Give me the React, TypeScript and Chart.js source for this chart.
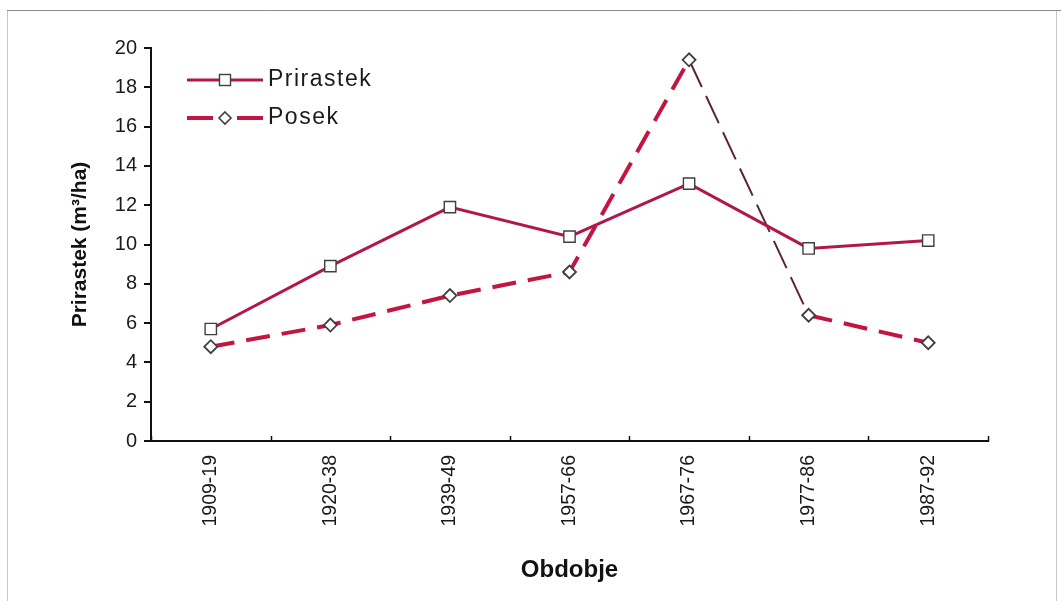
import React, { useEffect, useRef } from "react";
import { Chart, registerables } from "chart.js";

Chart.register(...registerables);

const periods = ["1909-19", "1920-38", "1939-49", "1957-66", "1967-76", "1977-86", "1987-92"];
const prirastek = [5.7, 8.9, 11.9, 10.4, 13.1, 9.8, 10.2];
const posek = [4.8, 5.9, 7.4, 8.6, 19.4, 6.4, 5.0];
const seriesNames = ["Prirastek", "Posek"];

const W = 1061;
const H = 601;
const lineColor = "#b0184b";
const posekColor = "#c2153f";
const markerEdge = "#3f3f3f";
const FONT = "Arial, 'Liberation Sans', sans-serif";

// Thin frame around the whole figure
const framePlugin = {
  id: "frame",
  beforeDraw(chart: any) {
    const ctx = chart.ctx;
    ctx.save();
    ctx.fillStyle = "#ffffff";
    ctx.fillRect(0, 0, chart.width, chart.height);
    ctx.strokeStyle = "#c8c8c8";
    ctx.lineWidth = 1;
    ctx.strokeRect(7.5, 10.5, chart.width - 12, chart.height - 8);
    ctx.strokeStyle = "#8a8a8a";
    ctx.beginPath();
    ctx.moveTo(7, 10.5);
    ctx.lineTo(chart.width, 10.5);
    ctx.stroke();
    ctx.restore();
  },
};

// Small upward tick marks at the category boundaries on the x axis
const xBoundaryTicks = {
  id: "xBoundaryTicks",
  afterDraw(chart: any) {
    const { ctx } = chart;
    const xs = chart.scales.x;
    const yBase = xs.top;
    ctx.save();
    ctx.strokeStyle = "#111";
    ctx.lineWidth = 1.5;
    ctx.beginPath();
    for (let i = 0; i <= periods.length; i++) {
      const px = Math.round(xs.getPixelForValue(i - 0.5)) + 0.5;
      ctx.moveTo(px, yBase + 1);
      ctx.lineTo(px, yBase - 5);
    }
    ctx.stroke();
    ctx.restore();
  },
};

// Legend drawn inside the top-left corner of the plot
const innerLegendPlugin = {
  id: "innerLegend",
  afterDatasetsDraw(chart: any) {
    const { ctx, chartArea } = chart;
    const x0 = chartArea.left + 36;
    const x1 = chartArea.left + 112;
    const xm = (x0 + x1) / 2;
    const rows = [chartArea.top + 32, chartArea.top + 70];
    ctx.save();
    ctx.lineCap = "butt";
    // Prirastek: solid line with square
    ctx.strokeStyle = lineColor;
    ctx.lineWidth = 3;
    ctx.beginPath();
    ctx.moveTo(x0, rows[0]);
    ctx.lineTo(x1, rows[0]);
    ctx.stroke();
    ctx.fillStyle = "#ffffff";
    ctx.strokeStyle = markerEdge;
    ctx.lineWidth = 1.4;
    ctx.fillRect(xm - 5.5, rows[0] - 5.5, 11, 11);
    ctx.strokeRect(xm - 5.5, rows[0] - 5.5, 11, 11);
    // Posek: dashed line with diamond
    ctx.strokeStyle = posekColor;
    ctx.lineWidth = 4;
    ctx.beginPath();
    ctx.moveTo(x0, rows[1]);
    ctx.lineTo(x0 + 26, rows[1]);
    ctx.moveTo(x1 - 26, rows[1]);
    ctx.lineTo(x1, rows[1]);
    ctx.stroke();
    ctx.strokeStyle = markerEdge;
    ctx.lineWidth = 1.6;
    ctx.beginPath();
    ctx.moveTo(xm, rows[1] - 6);
    ctx.lineTo(xm + 6, rows[1]);
    ctx.lineTo(xm, rows[1] + 6);
    ctx.lineTo(xm - 6, rows[1]);
    ctx.closePath();
    ctx.fillStyle = "#ffffff";
    ctx.fill();
    ctx.stroke();
    // Labels
    ctx.fillStyle = "#1a1a1a";
    ctx.font = `23px ${FONT}`;
    (ctx as any).letterSpacing = "1.5px";
    ctx.textAlign = "left";
    ctx.textBaseline = "middle";
    ctx.fillText(seriesNames[0], x1 + 5, rows[0]);
    ctx.fillText(seriesNames[1], x1 + 5, rows[1]);
    ctx.restore();
  },
};

export default function App() {
  const canvasRef = useRef<HTMLCanvasElement | null>(null);

  useEffect(() => {
    const canvas = canvasRef.current;
    if (!canvas) return;
    const chart = new Chart(canvas, {
      type: "line",
      data: {
        labels: periods,
        datasets: [
          {
            label: seriesNames[0],
            data: prirastek,
            borderColor: lineColor,
            borderWidth: 3,
            pointStyle: "rect",
            pointRadius: 8,
            pointBorderColor: markerEdge,
            pointBackgroundColor: "#ffffff",
            pointBorderWidth: 1.4,
            tension: 0,
          },
          {
            label: seriesNames[1],
            data: posek,
            borderColor: posekColor,
            borderWidth: 4,
            borderDash: [24, 12],
            pointStyle: "rectRot",
            pointRadius: 6.5,
            pointBorderColor: markerEdge,
            pointBackgroundColor: "#ffffff",
            pointBorderWidth: 1.8,
            tension: 0,
            segment: {
              borderColor: (c: any) => (c.p0DataIndex === 4 ? "#5a2636" : undefined),
              borderWidth: (c: any) => (c.p0DataIndex === 4 ? 2 : undefined),
              borderDash: (c: any) => (c.p0DataIndex === 4 ? [30, 10] : undefined),
            },
          },
        ],
      },
      options: {
        responsive: false,
        animation: false,
        devicePixelRatio: 1,
        layout: { padding: { left: 60, top: 48, right: 73, bottom: 16 } },
        plugins: {
          legend: { display: false },
          tooltip: { enabled: false },
        },
        scales: {
          x: {
            type: "category",
            offset: true,
            grid: {
              display: false,
              drawTicks: false,
              offset: true,
            },
            border: { display: true, color: "#111", width: 2 },
            ticks: {
              autoSkip: false,
              minRotation: 90,
              maxRotation: 90,
              padding: 14,
              color: "#1a1a1a",
              font: { family: FONT, size: 19.5 },
            },
            title: {
              display: true,
              text: "Obdobje",
              color: "#111",
              padding: { top: 0, bottom: 0 },
              font: { family: FONT, size: 24, weight: "bold" },
            },
            afterFit(scale: any) {
              scale.height = H - 16 - 441;
            },
          },
          y: {
            min: 0,
            max: 20,
            ticks: {
              stepSize: 2,
              padding: 7,
              color: "#1a1a1a",
              font: { family: FONT, size: 20 },
            },
            grid: {
              display: true,
              drawOnChartArea: false,
              drawTicks: true,
              tickLength: 7,
              color: "#111",
              lineWidth: 2,
            },
            border: { display: true, color: "#111", width: 2 },
            title: {
              display: true,
              text: "Prirastek (m³/ha)",
              color: "#111",
              padding: { top: 8, bottom: 0 },
              font: { family: FONT, size: 21, weight: "bold" },
            },
            afterFit(scale: any) {
              scale.width = 151 - 60;
            },
          },
        },
      },
      plugins: [framePlugin, xBoundaryTicks, innerLegendPlugin],
    });
    return () => chart.destroy();
  }, []);

  return (
    <div style={{ position: "absolute", left: 0, top: 0, width: W, height: H }}>
      <canvas ref={canvasRef} width={W} height={H} style={{ display: "block", width: W, height: H }} />
    </div>
  );
}
